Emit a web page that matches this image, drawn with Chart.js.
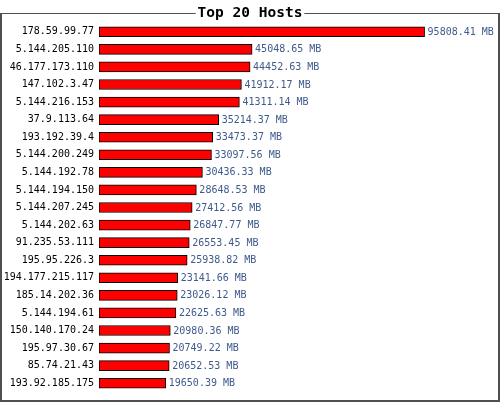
<!DOCTYPE html>
<html>
<head>
<meta charset="utf-8">
<title>Top 20 Hosts</title>
<script src="https://cdn.jsdelivr.net/npm/chart.js@4/dist/chart.umd.min.js"></script>
<style>
  html, body { margin: 0; padding: 0; background: #ffffff; }
  #wrap { width: 500px; height: 403px; }
</style>
</head>
<body>
<div id="wrap"><canvas id="chart" width="500" height="403"></canvas></div>
<script>
// Hosts ranked by transferred volume
const hosts = [
  '178.59.99.77', '5.144.205.110', '46.177.173.110', '147.102.3.47',
  '5.144.216.153', '37.9.113.64', '193.192.39.4', '5.144.200.249',
  '5.144.192.78', '5.144.194.150', '5.144.207.245', '5.144.202.63',
  '91.235.53.111', '195.95.226.3', '194.177.215.117', '185.14.202.36',
  '5.144.194.61', '150.140.170.24', '195.97.30.67', '85.74.21.43',
  '193.92.185.175'
];
const trafficMB = [
  95808.41, 45048.65, 44452.63, 41912.17,
  41311.14, 35214.37, 33473.37, 33097.56,
  30436.33, 28648.53, 27412.56, 26847.77,
  26553.45, 25938.82, 23141.66, 23026.12,
  22625.63, 20980.36, 20749.22, 20652.53,
  19650.39
];
const unitLabel = 'MB';
const chartTitle = 'Top 20 Hosts';

const MONO = '"DejaVu Sans Mono", "Liberation Mono", monospace';
const FRAME = '#505050';
const TITLE_FONT = 'bold 14.5px ' + MONO;

// White page, framed box whose top edge is broken by the title
const framePlugin = {
  id: 'frame',
  beforeDraw(chart) {
    const ctx = chart.ctx;
    const W = chart.width;
    ctx.save();
    ctx.fillStyle = '#ffffff';
    ctx.fillRect(0, 0, W, chart.height);
    ctx.font = TITLE_FONT;
    const tw = ctx.measureText(chartTitle).width;
    const mid = W / 2;
    const gapL = mid - tw / 2 - 2;
    const gapR = mid + tw / 2 + 2;
    ctx.fillStyle = FRAME;
    ctx.fillRect(1, 13, gapL - 1, 1);
    ctx.fillRect(gapR, 13, W - 1 - gapR, 1);
    ctx.fillRect(0, 13, 2, 389);
    ctx.fillRect(W - 2, 13, 2, 389);
    ctx.fillRect(0, 400, W, 2);
    // title text sitting on the top edge
    ctx.fillStyle = '#000000';
    ctx.textAlign = 'center';
    ctx.textBaseline = 'alphabetic';
    ctx.fillText(chartTitle, mid, 17);
    ctx.restore();
  }
};

// Value text after each bar
const valueLabels = {
  id: 'valueLabels',
  afterDatasetsDraw(chart) {
    const ctx = chart.ctx;
    const meta = chart.getDatasetMeta(0);
    ctx.save();
    ctx.font = '10px ' + MONO;
    ctx.fillStyle = '#3f5a8c';
    ctx.textAlign = 'left';
    ctx.textBaseline = 'middle';
    meta.data.forEach((bar, i) => {
      const v = chart.data.datasets[0].data[i];
      ctx.fillText(v.toFixed(2) + ' ' + unitLabel, bar.x + 3, bar.y + 0.5);
    });
    ctx.restore();
  }
};

new Chart(document.getElementById('chart'), {
  type: 'bar',
  data: {
    labels: hosts,
    datasets: [{
      data: trafficMB,
      backgroundColor: '#ff0000',
      borderColor: '#000000',
      borderWidth: 1,
      borderSkipped: false,
      barThickness: 10
    }]
  },
  options: {
    indexAxis: 'y',
    responsive: false,
    animation: false,
    events: [],
    layout: { padding: { top: 23, bottom: 3, left: 0, right: 0 } },
    plugins: {
      legend: { display: false },
      tooltip: { enabled: false },
      title: { display: false }
    },
    scales: {
      x: {
        display: false,
        min: 0,
        max: 118000
      },
      y: {
        grid: { display: false, drawTicks: false },
        border: { display: false },
        afterFit(axis) { axis.width = 99; },
        ticks: {
          color: '#000000',
          padding: 5,
          font: { family: MONO, size: 10 }
        }
      }
    }
  },
  plugins: [framePlugin, valueLabels]
});
</script>
</body>
</html>
